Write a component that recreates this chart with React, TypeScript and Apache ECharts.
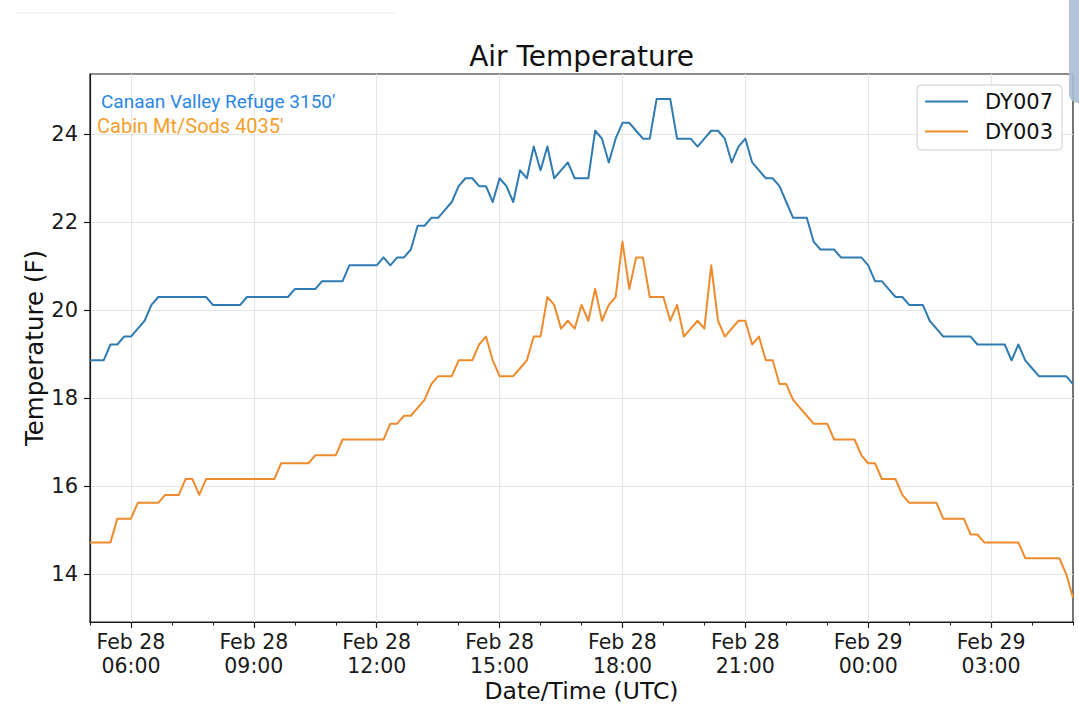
import { useEffect, useRef } from "react";
import * as echarts from "echarts";

// Start of the record (UTC) and sampling step
const START_UTC = Date.UTC(2020, 1, 28, 5, 0);
const STEP_MINUTES = 10;
const MONTHS = ["Jan", "Feb", "Mar", "Apr", "May", "Jun", "Jul", "Aug", "Sep", "Oct", "Nov", "Dec"];

const Y_TICKS = [14, 16, 18, 20, 22, 24];
const Y_MIN = 12.91;
const Y_MAX = 25.37;

const SERIES_NAMES = ["DY007", "DY003"];

// DY007 – Canaan Valley Refuge 3150'
const DY007 = [
  18.86, 18.86, 18.86, 19.22, 19.22, 19.4, 19.4, 19.58, 19.76, 20.12,
  20.3, 20.3, 20.3, 20.3, 20.3, 20.3, 20.3, 20.3, 20.12, 20.12,
  20.12, 20.12, 20.12, 20.3, 20.3, 20.3, 20.3, 20.3, 20.3, 20.3,
  20.48, 20.48, 20.48, 20.48, 20.66, 20.66, 20.66, 20.66, 21.02, 21.02,
  21.02, 21.02, 21.02, 21.2, 21.02, 21.2, 21.2, 21.38, 21.92, 21.92,
  22.1, 22.1, 22.28, 22.46, 22.82, 23.0, 23.0, 22.82, 22.82, 22.46,
  23.0, 22.82, 22.46, 23.18, 23.0, 23.72, 23.18, 23.72, 23.0, 23.18,
  23.36, 23.0, 23.0, 23.0, 24.08, 23.9, 23.36, 23.9, 24.26, 24.26,
  24.08, 23.9, 23.9, 24.8, 24.8, 24.8, 23.9, 23.9, 23.9, 23.72,
  23.9, 24.08, 24.08, 23.9, 23.36, 23.72, 23.9, 23.36, 23.18, 23.0,
  23.0, 22.82, 22.46, 22.1, 22.1, 22.1, 21.56, 21.38, 21.38, 21.38,
  21.2, 21.2, 21.2, 21.2, 21.02, 20.66, 20.66, 20.48, 20.3, 20.3,
  20.12, 20.12, 20.12, 19.76, 19.58, 19.4, 19.4, 19.4, 19.4, 19.4,
  19.22, 19.22, 19.22, 19.22, 19.22, 18.86, 19.22, 18.86, 18.68, 18.5,
  18.5, 18.5, 18.5, 18.5, 18.32,
];

// DY003 – Cabin Mt/Sods 4035'
const DY003 = [
  14.72, 14.72, 14.72, 14.72, 15.26, 15.26, 15.26, 15.62, 15.62, 15.62,
  15.62, 15.8, 15.8, 15.8, 16.16, 16.16, 15.8, 16.16, 16.16, 16.16,
  16.16, 16.16, 16.16, 16.16, 16.16, 16.16, 16.16, 16.16, 16.52, 16.52,
  16.52, 16.52, 16.52, 16.7, 16.7, 16.7, 16.7, 17.06, 17.06, 17.06,
  17.06, 17.06, 17.06, 17.06, 17.42, 17.42, 17.6, 17.6, 17.78, 17.96,
  18.32, 18.5, 18.5, 18.5, 18.86, 18.86, 18.86, 19.22, 19.4, 18.86,
  18.5, 18.5, 18.5, 18.68, 18.86, 19.4, 19.4, 20.3, 20.12, 19.58,
  19.76, 19.58, 20.12, 19.76, 20.48, 19.76, 20.12, 20.3, 21.56, 20.48,
  21.2, 21.2, 20.3, 20.3, 20.3, 19.76, 20.12, 19.4, 19.58, 19.76,
  19.58, 21.02, 19.76, 19.4, 19.58, 19.76, 19.76, 19.22, 19.4, 18.86,
  18.86, 18.32, 18.32, 17.96, 17.78, 17.6, 17.42, 17.42, 17.42, 17.06,
  17.06, 17.06, 17.06, 16.7, 16.52, 16.52, 16.16, 16.16, 16.16, 15.8,
  15.62, 15.62, 15.62, 15.62, 15.62, 15.26, 15.26, 15.26, 15.26, 14.9,
  14.9, 14.72, 14.72, 14.72, 14.72, 14.72, 14.72, 14.36, 14.36, 14.36,
  14.36, 14.36, 14.36, 14.0, 13.46,
];

const pad2 = (n: number) => (n < 10 ? "0" + n : String(n));
const timeLabel = (i: number) => {
  const d = new Date(START_UTC + i * STEP_MINUTES * 60000);
  return `${MONTHS[d.getUTCMonth()]} ${d.getUTCDate()}\n${pad2(d.getUTCHours())}:${pad2(d.getUTCMinutes())}`;
};
const CATEGORIES = DY007.map((_, i) => timeLabel(i));

const STEPS_PER_HOUR = 60 / STEP_MINUTES;
const isMajor = (i: number) => {
  const d = new Date(START_UTC + i * STEP_MINUTES * 60000);
  return d.getUTCMinutes() === 0 && d.getUTCHours() % 3 === 0;
};
const isMinor = (i: number) => i % STEPS_PER_HOUR === 0 && !isMajor(i);

const FONT = "DejaVu Sans";
const BLUE = "#2f7bb2";
const ORANGE = "#ee8b2c";

export default function App() {
  const ref = useRef<HTMLDivElement>(null);

  useEffect(() => {
    if (!ref.current) return;
    const chart = echarts.init(ref.current, null, { renderer: "svg" });
    chart.setOption({
      animation: false,
      backgroundColor: "#ffffff",
      textStyle: { fontFamily: FONT },
      grid: {
        left: 90,
        right: 6,
        top: 74,
        bottom: 98,
        show: true,
        borderColor: "#1a1a1a",
        borderWidth: 1.2,
        backgroundColor: "transparent",
      },
      legend: {
        data: SERIES_NAMES,
        orient: "vertical",
        right: 17,
        top: 85,
        padding: [6, 9, 8, 7],
        itemGap: 9,
        itemWidth: 43,
        itemHeight: 14,
        borderColor: "#cccccc",
        borderWidth: 1,
        borderRadius: 4,
        backgroundColor: "rgba(255,255,255,0.85)",
        itemStyle: { opacity: 0 },
        textStyle: {
          fontFamily: FONT,
          fontSize: 21,
          color: "#111",
          padding: [0, 0, 0, 12],
        },
      },
      xAxis: [
        {
          type: "category",
          data: CATEGORIES,
          boundaryGap: false,
          position: "bottom",
          name: "Date/Time (UTC)",
          nameLocation: "middle",
          nameGap: 57,
          nameMoveOverlap: false,
          nameTextStyle: { fontFamily: FONT, fontSize: 23.5, color: "#111", verticalAlign: "top" },
          axisLine: { show: true, onZero: false, lineStyle: { color: "#1a1a1a", width: 1.2 } },
          axisTick: {
            show: true,
            interval: (i: number) => isMajor(i),
            length: 6,
            lineStyle: { color: "#1a1a1a", width: 1.2 },
          },
          axisLabel: {
            show: true,
            interval: (i: number) => isMajor(i),
            margin: 8,
            fontFamily: FONT,
            fontSize: 20.5,
            lineHeight: 24,
            color: "#1a1a1a",
            align: "center",
          },
          splitLine: {
            show: true,
            interval: (i: number) => isMajor(i),
            lineStyle: { color: "#e6e6e6", width: 1.1 },
          },
        },
        {
          type: "category",
          data: CATEGORIES,
          boundaryGap: false,
          position: "bottom",
          axisLine: { show: false, onZero: false },
          axisLabel: { show: false },
          splitLine: { show: false },
          axisTick: {
            show: true,
            interval: (i: number) => isMinor(i),
            length: 3.5,
            lineStyle: { color: "#1a1a1a", width: 1 },
          },
        },
      ],
      yAxis: {
        type: "value",
        min: Y_MIN,
        max: Y_MAX,
        name: "Temperature (F)",
        nameLocation: "middle",
        nameGap: 43,
        nameMoveOverlap: false,
        nameRotate: 90,
        nameTextStyle: { fontFamily: FONT, fontSize: 24.5, color: "#111" },
        axisLine: { show: true, lineStyle: { color: "#1a1a1a", width: 1.2 } },
        axisTick: {
          show: true,
          length: 6,
          customValues: Y_TICKS,
          lineStyle: { color: "#1a1a1a", width: 1.2 },
        },
        axisLabel: {
          show: true,
          customValues: Y_TICKS,
          margin: 12,
          fontFamily: FONT,
          fontSize: 21,
          color: "#1a1a1a",
          formatter: (v: number) => String(Math.round(v)),
        },
        splitLine: { show: true, lineStyle: { color: "#e6e6e6", width: 1.1 } },
      },
      series: [
        {
          name: SERIES_NAMES[0],
          type: "line",
          xAxisIndex: 0,
          data: DY007,
          symbol: "none",
          showSymbol: false,
          color: BLUE,
          lineStyle: { color: BLUE, width: 2, join: "round" },
          z: 3,
        },
        {
          name: SERIES_NAMES[1],
          type: "line",
          xAxisIndex: 0,
          data: DY003,
          symbol: "none",
          showSymbol: false,
          color: ORANGE,
          lineStyle: { color: ORANGE, width: 2, join: "round" },
          z: 3,
        },
      ],
      graphic: [
        {
          type: "text",
          x: 581.5,
          y: 56,
          style: {
            text: "Air Temperature",
            fontFamily: FONT,
            fontSize: 28,
            fill: "#111",
            textAlign: "center",
            textVerticalAlign: "middle",
          },
        },
        {
          type: "text",
          x: 101,
          y: 101.5,
          style: {
            text: "Canaan Valley Refuge 3150'",
            fontFamily: "Roboto",
            fontSize: 19,
            fill: "#2b86e6",
            textAlign: "left",
            textVerticalAlign: "middle",
          },
          z: 10,
        },
        {
          type: "text",
          x: 97,
          y: 125.5,
          style: {
            text: "Cabin Mt/Sods 4035'",
            fontFamily: "Roboto",
            fontSize: 20,
            fill: "#f5a02a",
            textAlign: "left",
            textVerticalAlign: "middle",
          },
          z: 10,
        },
        {
          type: "line",
          shape: { x1: 15, y1: 13, x2: 395, y2: 13 },
          style: { stroke: "#ececec", lineWidth: 1 },
        },
        {
          type: "rect",
          shape: { x: 1069, y: -20, width: 30, height: 123, r: 9 },
          style: { fill: "#a9bed5", opacity: 0.9 },
          z: 100,
        },
      ],
    });
    return () => chart.dispose();
  }, []);

  return (
    <div
      ref={ref}
      style={{ position: "fixed", left: 0, top: 0, width: 1079, height: 720, background: "#fff" }}
    />
  );
}
